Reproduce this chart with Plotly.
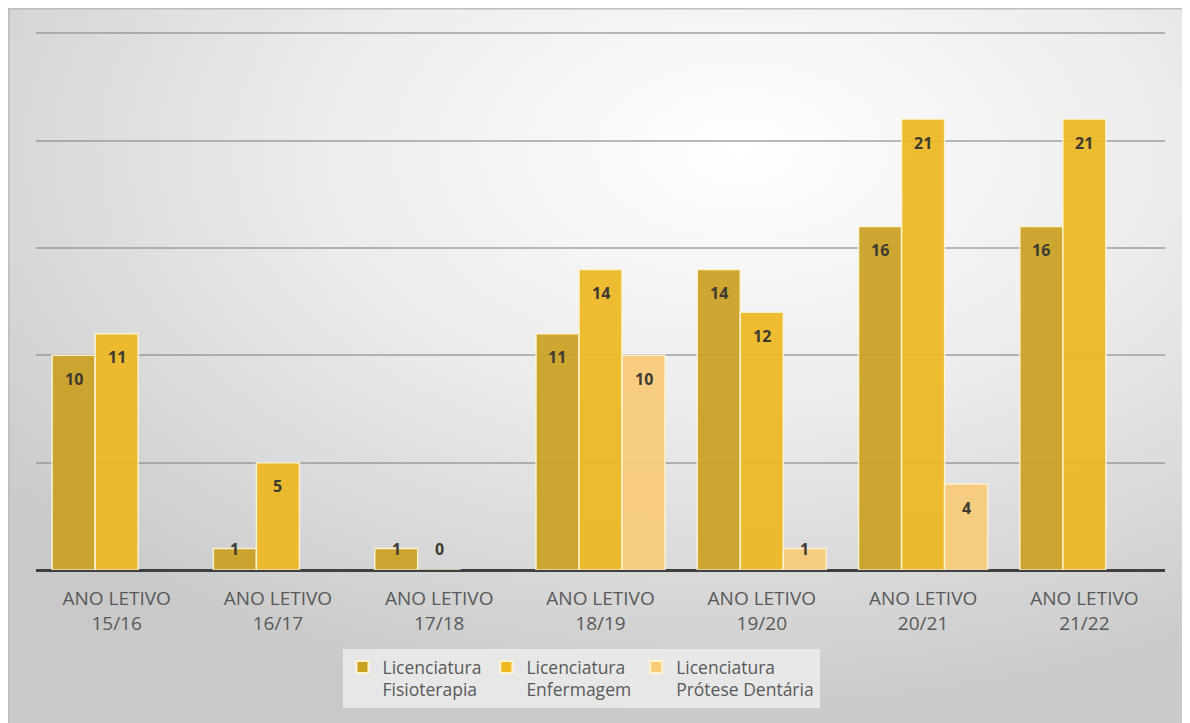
import base64
import plotly.graph_objects as go

categories = ["ANO LETIVO<br>15/16", "ANO LETIVO<br>16/17", "ANO LETIVO<br>17/18",
              "ANO LETIVO<br>18/19", "ANO LETIVO<br>19/20", "ANO LETIVO<br>20/21",
              "ANO LETIVO<br>21/22"]
series_names = ["Licenciatura<br>Fisioterapia", "Licenciatura<br>Enfermagem",
                "Licenciatura<br>Prótese Dentária"]
fisioterapia = [10, 1, 1, 11, 14, 16, 16]
enfermagem = [11, 5, 0, 14, 12, 21, 21]
protese = [None, None, None, 10, 1, 4, None]
colors = ["#CBA122", "#EEB820", "#F9CB78"]

# page body has an 8px margin; figure occupies the rest of the window
W, H = 1182, 715
L, R, T, B = 28, 1157, 22, 562
YMAX = 25.15

svg = f'''<svg xmlns="http://www.w3.org/2000/svg" width="{W}" height="{H}" viewBox="0 0 {W} {H}" preserveAspectRatio="none">
<defs><radialGradient id="g" cx="0.62" cy="0.2" r="0.8" fx="0.62" fy="0.2">
<stop offset="0" stop-color="#ffffff"/><stop offset="0.45" stop-color="#ececec"/><stop offset="1" stop-color="#c9c9c9"/>
</radialGradient></defs>
<rect x="0" y="0" width="{W}" height="{H}" fill="url(#g)"/></svg>'''
src = "data:image/svg+xml;base64," + base64.b64encode(svg.encode()).decode()

def px_x(p):
    return (p - L) / (R - L)

def px_y(p):
    return (B - p) / (B - T)

fig = go.Figure()
all_series = [fisioterapia, enfermagem, protese]
for name, vals, col in zip(series_names, all_series, colors):
    fig.add_trace(go.Bar(
        x=list(range(len(categories))), y=vals, name=name,
        marker=dict(color=col, opacity=0.92, line=dict(color="#FFF3CF", width=1.5)),
        hoverinfo="y",
    ))

bar_w = (1 - 0.2) / 3
annotations = []
for j, vals in enumerate(all_series):
    for i, v in enumerate(vals):
        if v is None:
            continue
        big = v >= 2
        annotations.append(dict(
            x=i + (j - 1) * bar_w, y=v if big else 1, xref="x", yref="y",
            text=f"<b>{v}</b>", showarrow=False, yanchor="middle",
            yshift=-23.5 if big else 0,
            font=dict(family="Open Sans", size=16, color="#3d3a32"),
        ))

fig.update_layout(
    width=W, height=H,
    margin=dict(l=L, r=W - R, t=T, b=H - B),
    paper_bgcolor="white", plot_bgcolor="rgba(0,0,0,0)",
    barmode="group", bargap=0.2, bargroupgap=0,
    showlegend=True,
    legend=dict(orientation="h", x=px_x(573), xanchor="center", y=px_y(641), yanchor="top",
                bgcolor="rgba(234,234,234,0.9)", valign="top", itemwidth=30,
                font=dict(family="Open Sans", size=17.5, color="#595959"),
                itemsizing="constant", traceorder="normal"),
    font=dict(family="Open Sans", color="#595959"),
    annotations=annotations,
    images=[dict(source=src, xref="paper", yref="paper",
                 x=px_x(0), y=px_y(0), sizex=W / (R - L), sizey=H / (B - T),
                 xanchor="left", yanchor="top", sizing="stretch", layer="below")],
    shapes=[dict(type="rect", xref="paper", yref="paper",
                 x0=px_x(0.5), x1=px_x(W + 5), y0=px_y(H + 5), y1=px_y(0.5),
                 line=dict(color="#bdbdbd", width=2), fillcolor="rgba(0,0,0,0)", layer="below")],
)
fig.update_xaxes(
    tickmode="array", tickvals=list(range(len(categories))), ticktext=categories,
    range=[-0.5, len(categories) - 0.5],
    showgrid=False, showline=False, zeroline=False, ticks="",
    ticklabelstandoff=15,
    tickfont=dict(family="Open Sans", size=19, color="#595959"),
)
fig.update_yaxes(
    range=[0, YMAX], tickvals=[5, 10, 15, 20, 25], showticklabels=False, showgrid=True,
    gridcolor="rgba(140,140,140,0.6)", gridwidth=1.5,
    zeroline=True, zerolinecolor="#404040", zerolinewidth=2.5,
)
fig.write_html("out.html")
